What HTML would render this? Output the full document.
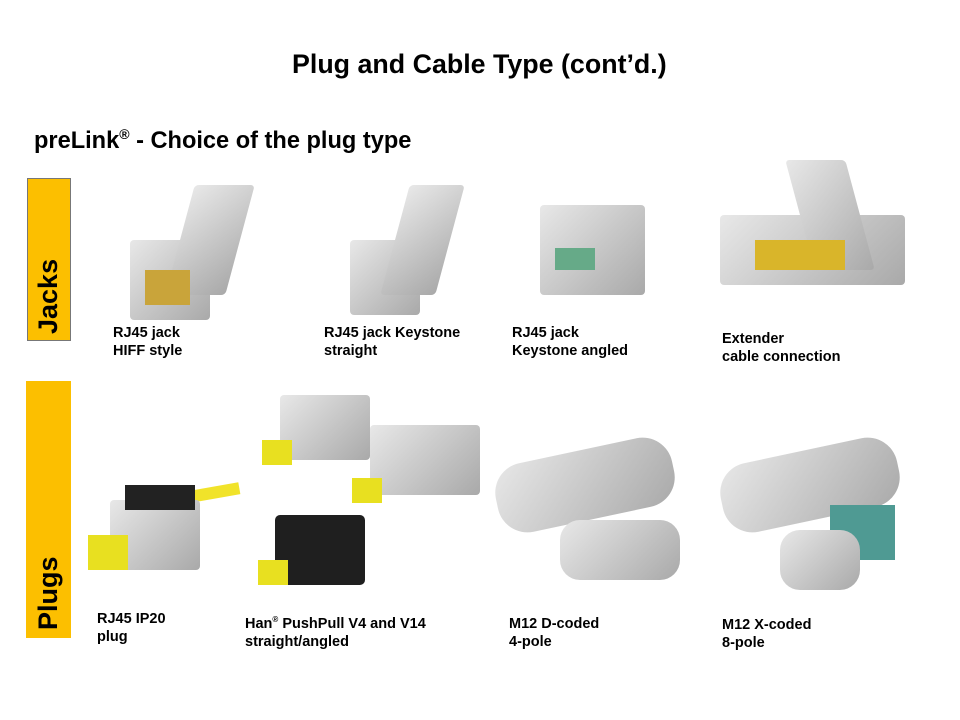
<!DOCTYPE html>
<html><head><style>
body{margin:0;width:960px;height:720px;background:#fff;position:relative;overflow:hidden;font-family:"Liberation Sans",Arial,sans-serif}
.t{position:absolute;font-weight:bold;color:#000;white-space:nowrap}
.lab{position:absolute;font-weight:bold;font-size:14.5px;line-height:18px;color:#000;white-space:nowrap}
.bar{position:absolute;background:#fcbf00}
.vt{position:absolute;transform:rotate(-90deg);transform-origin:left top;font-weight:bold;font-size:27px;white-space:nowrap}
.m{position:absolute;background:linear-gradient(135deg,#e8e8e8,#a9a9a9);border-radius:4px}
</style></head><body>
<div class="t" style="left:292px;top:49px;font-size:26.8px">Plug and Cable Type (cont’d.)</div>
<div class="t" style="left:34px;top:126px;font-size:23.6px">preLink<sup style="font-size:14px">®</sup> - Choice of the plug type</div>

<div class="bar" style="left:27px;top:178px;width:44px;height:163px;border:1px solid #777;box-sizing:border-box"></div>
<div class="vt" style="left:33px;top:334px">Jacks</div>
<div class="bar" style="left:26px;top:381px;width:45px;height:257px"></div>
<div class="vt" style="left:33px;top:630px">Plugs</div>

<!-- jack images -->
<div class="m" style="left:130px;top:240px;width:80px;height:80px"></div>
<div class="m" style="left:180px;top:185px;width:60px;height:110px;transform:skewX(-15deg)"></div>
<div style="position:absolute;left:145px;top:270px;width:45px;height:35px;background:#c9a43a"></div>
<div class="m" style="left:350px;top:240px;width:70px;height:75px"></div>
<div class="m" style="left:395px;top:185px;width:55px;height:110px;transform:skewX(-15deg)"></div>
<div class="m" style="left:540px;top:205px;width:105px;height:90px"></div>
<div style="position:absolute;left:555px;top:248px;width:40px;height:22px;background:#6a8"></div>
<div class="m" style="left:720px;top:215px;width:185px;height:70px"></div>
<div class="m" style="left:800px;top:160px;width:60px;height:110px;transform:skewX(15deg)"></div>
<div style="position:absolute;left:755px;top:240px;width:90px;height:30px;background:#d9b52a"></div>

<div class="lab" style="left:113px;top:324px">RJ45 jack<br>HIFF style</div>
<div class="lab" style="left:324px;top:324px">RJ45 jack Keystone<br>straight</div>
<div class="lab" style="left:512px;top:324px">RJ45 jack<br>Keystone angled</div>
<div class="lab" style="left:722px;top:330px">Extender<br>cable connection</div>

<!-- plug images -->
<div style="position:absolute;left:150px;top:490px;width:90px;height:12px;background:#f1e32a;transform:rotate(-10deg)"></div>
<div class="m" style="left:110px;top:500px;width:90px;height:70px"></div>
<div style="position:absolute;left:125px;top:485px;width:70px;height:25px;background:#222"></div>
<div style="position:absolute;left:88px;top:535px;width:40px;height:35px;background:#e8e020"></div>
<div class="m" style="left:280px;top:395px;width:90px;height:65px"></div>
<div style="position:absolute;left:262px;top:440px;width:30px;height:25px;background:#e8e020"></div>
<div class="m" style="left:370px;top:425px;width:110px;height:70px"></div>
<div style="position:absolute;left:352px;top:478px;width:30px;height:25px;background:#e8e020"></div>
<div style="position:absolute;left:275px;top:515px;width:90px;height:70px;background:#1f1f1f;border-radius:5px"></div>
<div style="position:absolute;left:258px;top:560px;width:30px;height:25px;background:#e8e020"></div>
<div class="m" style="left:495px;top:450px;width:180px;height:70px;border-radius:30px;transform:rotate(-12deg)"></div>
<div class="m" style="left:560px;top:520px;width:120px;height:60px;border-radius:20px"></div>
<div class="m" style="left:720px;top:450px;width:180px;height:70px;border-radius:30px;transform:rotate(-12deg)"></div>
<div style="position:absolute;left:830px;top:505px;width:65px;height:55px;background:#4f9a93"></div>
<div class="m" style="left:780px;top:530px;width:80px;height:60px;border-radius:20px"></div>

<div class="lab" style="left:97px;top:610px">RJ45 IP20<br>plug</div>
<div class="lab" style="left:245px;top:611px">Han<sup style="font-size:8px">®</sup> PushPull V4 and V14<br>straight/angled</div>
<div class="lab" style="left:509px;top:615px">M12 D-coded<br>4-pole</div>
<div class="lab" style="left:722px;top:616px">M12 X-coded<br>8-pole</div>
</body></html>
